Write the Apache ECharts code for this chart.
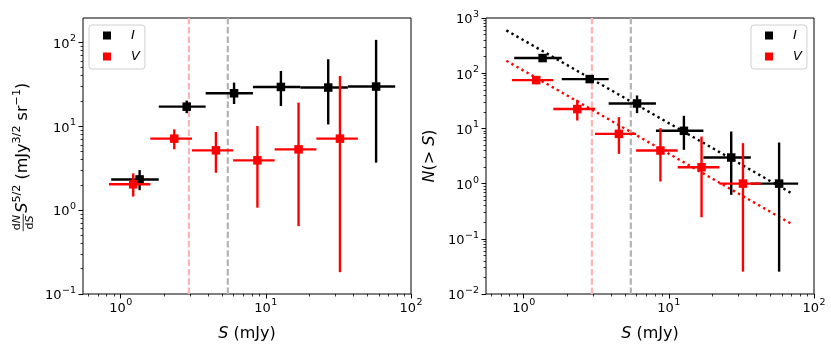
<!DOCTYPE html>
<html><head><meta charset="utf-8">
<script src="https://cdn.jsdelivr.net/npm/echarts@6/dist/echarts.min.js"></script>
<style>html,body{margin:0;padding:0;background:#fff}#c{width:831px;height:357px}</style>
</head><body><div id="c"></div>
<script>
// ---- shared flux bins (mJy) ----
const I_S   = [1.35, 2.85, 6.04, 12.7, 26.9, 57.5];
const I_Slo = [0.86, 1.83, 3.85, 8.15, 17.3, 36.7];
const I_Shi = [1.83, 3.85, 8.15, 17.3, 36.7, 77.8];
const V_S   = [1.22, 2.34, 4.53, 8.75, 16.8, 32.4];
const V_Slo = [0.83, 1.60, 3.10, 5.95, 11.5, 22.3];
const V_Shi = [1.60, 3.10, 5.95, 11.5, 22.3, 43.0];
// ---- left panel: dN/dS S^5/2 ----
const I_dnds    = [2.32, 17.1, 24.7, 29.4, 28.9, 29.7];
const I_dnds_lo = [1.73, 14.3, 18.4, 17.4, 10.5, 3.68];
const I_dnds_hi = [3.0, 20.2, 33.1, 45.6, 62.9, 107];
const V_dnds    = [2.03, 7.11, 5.16, 3.92, 5.30, 7.11];
const V_dnds_lo = [1.45, 5.31, 2.79, 1.07, 0.644, 0.182];
const V_dnds_hi = [2.74, 9.19, 8.53, 10.05, 19.1, 39.7];
// ---- right panel: N(>S) ----
const I_N    = [188, 78.2, 28.3, 9.04, 2.97, 1.0];
const I_N_lo = [174, 68, 18.9, 4.09, 0.625, 0.0254];
const I_N_hi = [202, 89, 39.5, 16.9, 8.79, 5.55];
const V_N    = [75, 22.4, 7.96, 3.97, 1.98, 1.0];
const V_N_lo = [63, 13.9, 3.46, 1.09, 0.246, 0.0254];
const V_N_hi = [88, 33, 16.0, 10.1, 7.12, 5.41];
// ---- power-law fits (end points) ----
const fitS  = [0.76, 70];
const I_fit = [596, 0.67];
const V_fit = [168, 0.186];
// ---- completeness limits ----
const limits = [2.95, 5.47];
// ---- ticks ----
const xMajor = [1, 10, 100];
const xMinor = [0.6,0.7,0.8,0.9,2,3,4,5,6,7,8,9,20,30,40,50,60,70,80,90];
const yLMajor = [0.1, 1, 10, 100];
const yLMinor = [0.2,0.3,0.4,0.5,0.6,0.7,0.8,0.9,2,3,4,5,6,7,8,9,20,30,40,50,60,70,80,90];
const yRMajor = [0.01, 0.1, 1, 10, 100, 1000];
const yRMinor = [0.02,0.03,0.04,0.05,0.06,0.07,0.08,0.09,0.2,0.3,0.4,0.5,0.6,0.7,0.8,0.9,2,3,4,5,6,7,8,9,20,30,40,50,60,70,80,90,200,300,400,500,600,700,800,900];

const FONT = '"DejaVu Sans", sans-serif';
function powLabel(v){ const e = Math.round(Math.log10(v)); return '{b|10}{s|' + String(e).replace('-', '\u2212') + '}'; }
const tickRich = {
  b:{fontSize:13, fontFamily:FONT, color:'#000', padding:[4,0,0,0], verticalAlign:'bottom'},
  s:{fontSize:9.5, fontFamily:FONT, color:'#000', verticalAlign:'top', padding:[0,0,0,0.5]}
};

const chart = echarts.init(document.getElementById('c'));

const grids = [
  {left:83, top:18, width:328, height:276},
  {left:486, top:18, width:328, height:276}
].map(g => Object.assign({show:true, borderColor:'#000', borderWidth:1, backgroundColor:'transparent', outerBoundsMode:'none', containLabel:false}, g));

function xAxes(gi) {
  const base = {type:'log', gridIndex:gi, min:0.55, max:100, position:'bottom', splitLine:{show:false}, axisLine:{show:false}};
  return [
    Object.assign({}, base, {
      axisTick:{show:true, length:4.5, lineStyle:{color:'#000', width:1}, customValues:xMajor},
      axisLabel:{customValues:xMajor, formatter:powLabel, margin:4, rich:tickRich, color:'#000'},
      name:'{i|S} (mJy)', nameLocation:'middle', nameGap:32, nameMoveOverlap:false,
      nameTextStyle:{fontSize:16, fontFamily:FONT, color:'#000', rich:{i:{fontSize:16, fontFamily:FONT, fontStyle:'italic', color:'#000'}}}
    }),
    Object.assign({}, base, {
      axisTick:{show:true, length:2.5, lineStyle:{color:'#000', width:0.8}, customValues:xMinor},
      axisLabel:{show:false}
    })
  ];
}
function yAxes(gi, min, max, major, minor, extra) {
  const base = {type:'log', gridIndex:gi, min:min, max:max, position:'left', splitLine:{show:false}, axisLine:{show:false}};
  return [
    Object.assign({}, base, {
      axisTick:{show:true, length:4.5, lineStyle:{color:'#000', width:1}, customValues:major},
      axisLabel:{customValues:major, formatter:powLabel, margin:7, rich:tickRich, color:'#000'}
    }, extra || {}),
    Object.assign({}, base, {
      axisTick:{show:true, length:2.5, lineStyle:{color:'#000', width:0.8}, customValues:minor},
      axisLabel:{show:false}
    })
  ];
}

function errRender(params, api) {
  const x = api.value(0), y = api.value(1);
  const c = api.coord([x, y]);
  const l = api.coord([api.value(2), y]);
  const r = api.coord([api.value(3), y]);
  const b = api.coord([x, api.value(4)]);
  const t = api.coord([x, api.value(5)]);
  const color = api.visual('color');
  const s = 8.5;
  return {type:'group', children:[
    {type:'line', shape:{x1:l[0], y1:l[1], x2:r[0], y2:r[1]}, style:{stroke:color, lineWidth:2.4}},
    {type:'line', shape:{x1:b[0], y1:b[1], x2:t[0], y2:t[1]}, style:{stroke:color, lineWidth:2.4}},
    {type:'rect', shape:{x:c[0]-s/2, y:c[1]-s/2, width:s, height:s}, style:{fill:color}}
  ]};
}
function errSeries(name, color, xi, yi, S, Slo, Shi, Y, Ylo, Yhi) {
  return {type:'custom', name:name, xAxisIndex:xi, yAxisIndex:yi, renderItem:errRender,
    itemStyle:{color:color}, encode:{x:0, y:1}, z:5,
    data: S.map((s,i)=>[s, Y[i], Slo[i], Shi[i], Ylo[i], Yhi[i]])};
}
function limitSeries(xi, yi) {
  const cols = ['#ffb3b3', '#b3b3b3'];
  return {type:'custom', xAxisIndex:xi, yAxisIndex:yi, silent:true, z:1,
    data: limits.map((v,i)=>[v, 1, i]),
    renderItem:function(params, api){
      const cs = params.coordSys;
      const px = api.coord([api.value(0), 1])[0];
      return {type:'line', shape:{x1:px, y1:cs.y+cs.height, x2:px, y2:cs.y},
        style:{stroke:cols[api.value(2)], lineWidth:2.2, lineDash:[6.5,2.8]}};
    }};
}
function fitSeries(color, xi, yi, vals) {
  return {type:'line', xAxisIndex:xi, yAxisIndex:yi, silent:true, showSymbol:false, symbol:'none', z:2,
    data: fitS.map((s,i)=>[s, vals[i]]),
    lineStyle:{color:color, width:2.4, type:[2.4,3.4]}};
}

// left y label (rotated, with fraction) built as real text pieces
const mctx = document.createElement('canvas').getContext('2d');
function fnt(size, it){ return (it?'italic ':'') + size + 'px ' + FONT; }
function tw(t, size, it){ mctx.font = fnt(size, it); return mctx.measureText(t).width; }
function leftYLabel() {
  const B = 16, s = 11.2, sup = -7;
  const kids = [];
  let x = 0;
  function txt(t, size, it, px, base){
    kids.push({type:'text', x:px, y:base - 0.32*size,
      style:{text:t, font:fnt(size,it), fill:'#000', textAlign:'left', textVerticalAlign:'middle', align:'left', verticalAlign:'middle'}});
  }
  function put(t, size, it, base){ txt(t, size, it, x, base); x += tw(t, size, it); }
  const wN = tw('d', s) + tw('N', s, true);
  const wD = tw('d', s) + tw('S', s, true);
  const wf = Math.max(wN, wD) + 2;
  let xx = x + (wf - wN)/2; txt('d', s, false, xx, -7.5); txt('N', s, true, xx + tw('d', s), -7.5);
  xx = x + (wf - wD)/2; txt('d', s, false, xx, 5.8); txt('S', s, true, xx + tw('d', s), 5.8);
  kids.push({type:'line', shape:{x1:x, y1:-4.8, x2:x+wf, y2:-4.8}, style:{stroke:'#000', lineWidth:0.8}});
  x += wf + 1;
  put('S', B, true, 0); put('5/2', s, false, sup); put(' (mJy', B, false, 0);
  put('3/2', s, false, sup); put(' sr', B, false, 0); put('\u22121', s, false, sup); put(')', B, false, 0);
  const L = x;
  kids.forEach(k => { if (k.type === 'text') k.x -= L/2; else { k.shape.x1 -= L/2; k.shape.x2 -= L/2; } });
  return {type:'group', x:28, y:157, rotation:Math.PI/2, silent:true, children:kids};
}

function legend(left) {
  return {data:[{name:'I'},{name:'V'}], orient:'vertical', left:left, top:25, icon:'rect',
    itemWidth:8, itemHeight:8, itemGap:8, padding:[4,5,6,14], selectedMode:false,
    borderColor:'#d0d0d0', borderWidth:1, borderRadius:3, backgroundColor:'rgba(255,255,255,0.8)',
    textStyle:{fontFamily:FONT, fontStyle:'italic', fontSize:13, color:'#000', padding:[0,0,0,15], lineHeight:12}};
}

const option = {
  animation:false,
  backgroundColor:'#fff',
  grid: grids,
  xAxis: [].concat(xAxes(0), xAxes(1)),
  yAxis: [].concat(
    yAxes(0, 0.1, 195, yLMajor, yLMinor),
    yAxes(1, 0.01, 1000, yRMajor, yRMinor, {
      name:'{i|N}(> {i|S})', nameLocation:'middle', nameGap:48, nameMoveOverlap:false,
      nameTextStyle:{fontSize:16, fontFamily:FONT, color:'#000', rich:{i:{fontSize:16, fontFamily:FONT, fontStyle:'italic', color:'#000'}}}
    })
  ),
  legend: [legend(89), legend(751)],
  graphic: [leftYLabel()],
  series: [
    limitSeries(0, 0),
    errSeries('I', '#000000', 0, 0, I_S, I_Slo, I_Shi, I_dnds, I_dnds_lo, I_dnds_hi),
    errSeries('V', '#ff0000', 0, 0, V_S, V_Slo, V_Shi, V_dnds, V_dnds_lo, V_dnds_hi),
    limitSeries(2, 2),
    fitSeries('#000000', 2, 2, I_fit),
    fitSeries('#ff0000', 2, 2, V_fit),
    errSeries('I', '#000000', 2, 2, I_S, I_Slo, I_Shi, I_N, I_N_lo, I_N_hi),
    errSeries('V', '#ff0000', 2, 2, V_S, V_Slo, V_Shi, V_N, V_N_lo, V_N_hi)
  ]
};
chart.setOption(option);
</script></body></html>
